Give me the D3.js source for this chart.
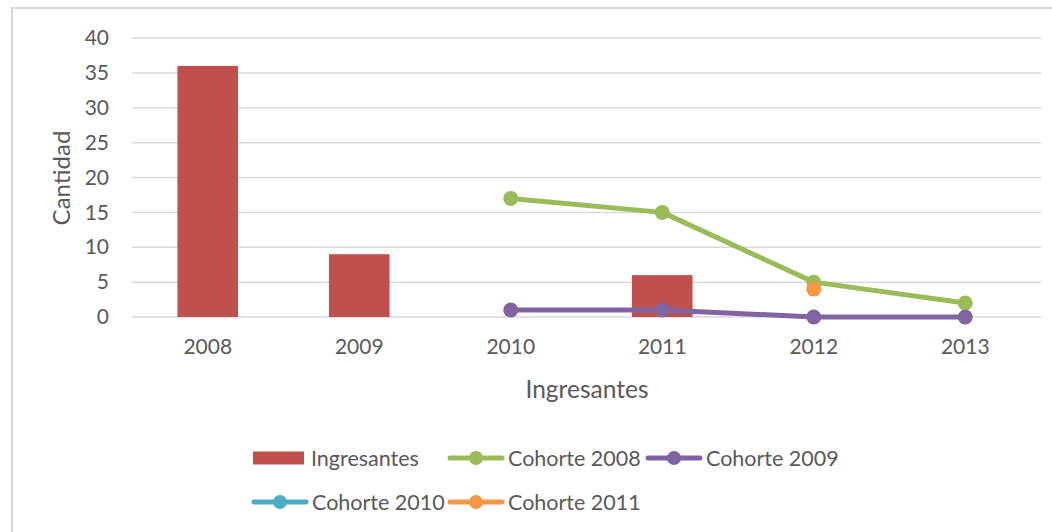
<!DOCTYPE html>
<html>
<meta charset="utf-8">
<style>
body {
  margin: 0;
  background: #fff;
}
text {
  font-family: Lato, "Open Sans", sans-serif;
  fill: #595959;
}
.grid line {
  stroke: #d9d9d9;
  stroke-width: 1.5px;
}
</style>
<body>
<svg width="1052" height="532"></svg>
<script src="https://cdnjs.cloudflare.com/ajax/libs/d3/7.8.5/d3.min.js"></script>
<script>

// data
var years = ["2008", "2009", "2010", "2011", "2012", "2013"];
var ingresantes = [36, 9, null, 6, null, null];
var cohorte2008 = [null, null, 17, 15, 5, 2];
var cohorte2009 = [null, null, 1, 1, 0, 0];
var cohorte2010 = [null, null, null, null, null, null];
var cohorte2011 = [null, null, null, null, 4, null];
var yTicks = [0, 5, 10, 15, 20, 25, 30, 35, 40];

var series = [
  {name: "Cohorte 2008", color: "#9bbb59", values: cohorte2008},
  {name: "Cohorte 2009", color: "#8064a2", values: cohorte2009},
  {name: "Cohorte 2010", color: "#4bacc6", values: cohorte2010},
  {name: "Cohorte 2011", color: "#f79646", values: cohorte2011}
];
var barColor = "#c0504d";

var svg = d3.select("svg");

// chart frame
svg.append("rect")
    .attr("x", 12).attr("y", 8)
    .attr("width", 1060).attr("height", 540)
    .attr("fill", "none")
    .attr("stroke", "#d9d9d9")
    .attr("stroke-width", 2);

var plotLeft = 132, plotRight = 1041, plotTop = 38, plotBottom = 317;

var x = d3.scaleBand().domain(years).range([plotLeft, plotRight]).paddingInner(0.6).paddingOuter(0.3);
var xc = function(i) { return x(years[i]) + x.bandwidth() / 2; };
var y = d3.scaleLinear().domain([0, 40]).range([plotBottom, plotTop]);

// gridlines
svg.append("g")
    .attr("class", "grid")
  .selectAll("line")
  .data(yTicks)
  .enter().append("line")
    .attr("x1", plotLeft).attr("x2", plotRight)
    .attr("y1", function(d) { return y(d); })
    .attr("y2", function(d) { return y(d); });

// y axis labels
var yAxis = svg.append("g")
    .attr("transform", "translate(" + plotLeft + ",0)")
    .call(d3.axisLeft(y).tickValues(yTicks).tickSize(0).tickPadding(23));
yAxis.select(".domain").remove();
yAxis.selectAll("text").style("font-size", "21px").attr("fill", "#595959");

// x axis labels
var xAxis = svg.append("g")
    .attr("transform", "translate(0," + plotBottom + ")")
    .call(d3.axisBottom(x).tickSize(0).tickPadding(22));
xAxis.select(".domain").remove();
xAxis.selectAll("text").style("font-size", "21px").attr("fill", "#595959");

// axis titles
svg.append("text")
    .attr("transform", "translate(70,178) rotate(-90)")
    .attr("text-anchor", "middle")
    .style("font-size", "24px")
    .text("Cantidad");

svg.append("text")
    .attr("x", 587).attr("y", 398)
    .attr("text-anchor", "middle")
    .style("font-size", "24.5px")
    .text("Ingresantes");

// bars
svg.append("g")
  .selectAll("rect")
  .data(ingresantes.map(function(v, i) { return {v: v, i: i}; }).filter(function(d) { return d.v != null; }))
  .enter().append("rect")
    .attr("x", function(d) { return x(years[d.i]); })
    .attr("width", x.bandwidth())
    .attr("y", function(d) { return y(d.v); })
    .attr("height", function(d) { return y(0) - y(d.v); })
    .attr("fill", barColor);

// lines + markers
var line = d3.line()
    .defined(function(d) { return d.v != null; })
    .x(function(d) { return xc(d.i); })
    .y(function(d) { return y(d.v); });

series.forEach(function(s) {
  var pts = s.values.map(function(v, i) { return {v: v, i: i}; });
  svg.append("path")
      .datum(pts)
      .attr("d", line)
      .attr("fill", "none")
      .attr("stroke", s.color)
      .attr("stroke-width", 5)
      .attr("stroke-linejoin", "round")
      .attr("stroke-linecap", "round");
  svg.append("g")
    .selectAll("circle")
    .data(pts.filter(function(d) { return d.v != null; }))
    .enter().append("circle")
      .attr("cx", function(d) { return xc(d.i); })
      .attr("cy", function(d) { return y(d.v); })
      .attr("r", 7.5)
      .attr("fill", s.color);
});

// legend
var legendItems = [
  {name: "Ingresantes", color: barColor, bar: true, x: 253, y: 458},
  {name: "Cohorte 2008", color: series[0].color, x: 448, y: 458},
  {name: "Cohorte 2009", color: series[1].color, x: 646, y: 458},
  {name: "Cohorte 2010", color: series[2].color, x: 252, y: 502},
  {name: "Cohorte 2011", color: series[3].color, x: 448, y: 502}
];

var legend = svg.append("g")
  .selectAll("g")
  .data(legendItems)
  .enter().append("g")
    .attr("transform", function(d) { return "translate(" + d.x + "," + d.y + ")"; });

legend.filter(function(d) { return d.bar; }).append("rect")
    .attr("x", 0).attr("y", -6.5)
    .attr("width", 51).attr("height", 13)
    .attr("fill", function(d) { return d.color; });

var lineItems = legend.filter(function(d) { return !d.bar; });
lineItems.append("line")
    .attr("x1", 2).attr("x2", 54)
    .attr("stroke", function(d) { return d.color; })
    .attr("stroke-width", 5)
    .attr("stroke-linecap", "round");
lineItems.append("circle")
    .attr("cx", 28).attr("r", 7)
    .attr("fill", function(d) { return d.color; });

legend.append("text")
    .attr("x", function(d) { return d.bar ? 58 : 60; })
    .attr("dy", "0.35em")
    .style("font-size", "21.5px")
    .text(function(d) { return d.name; });

</script>
</body>
</html>
